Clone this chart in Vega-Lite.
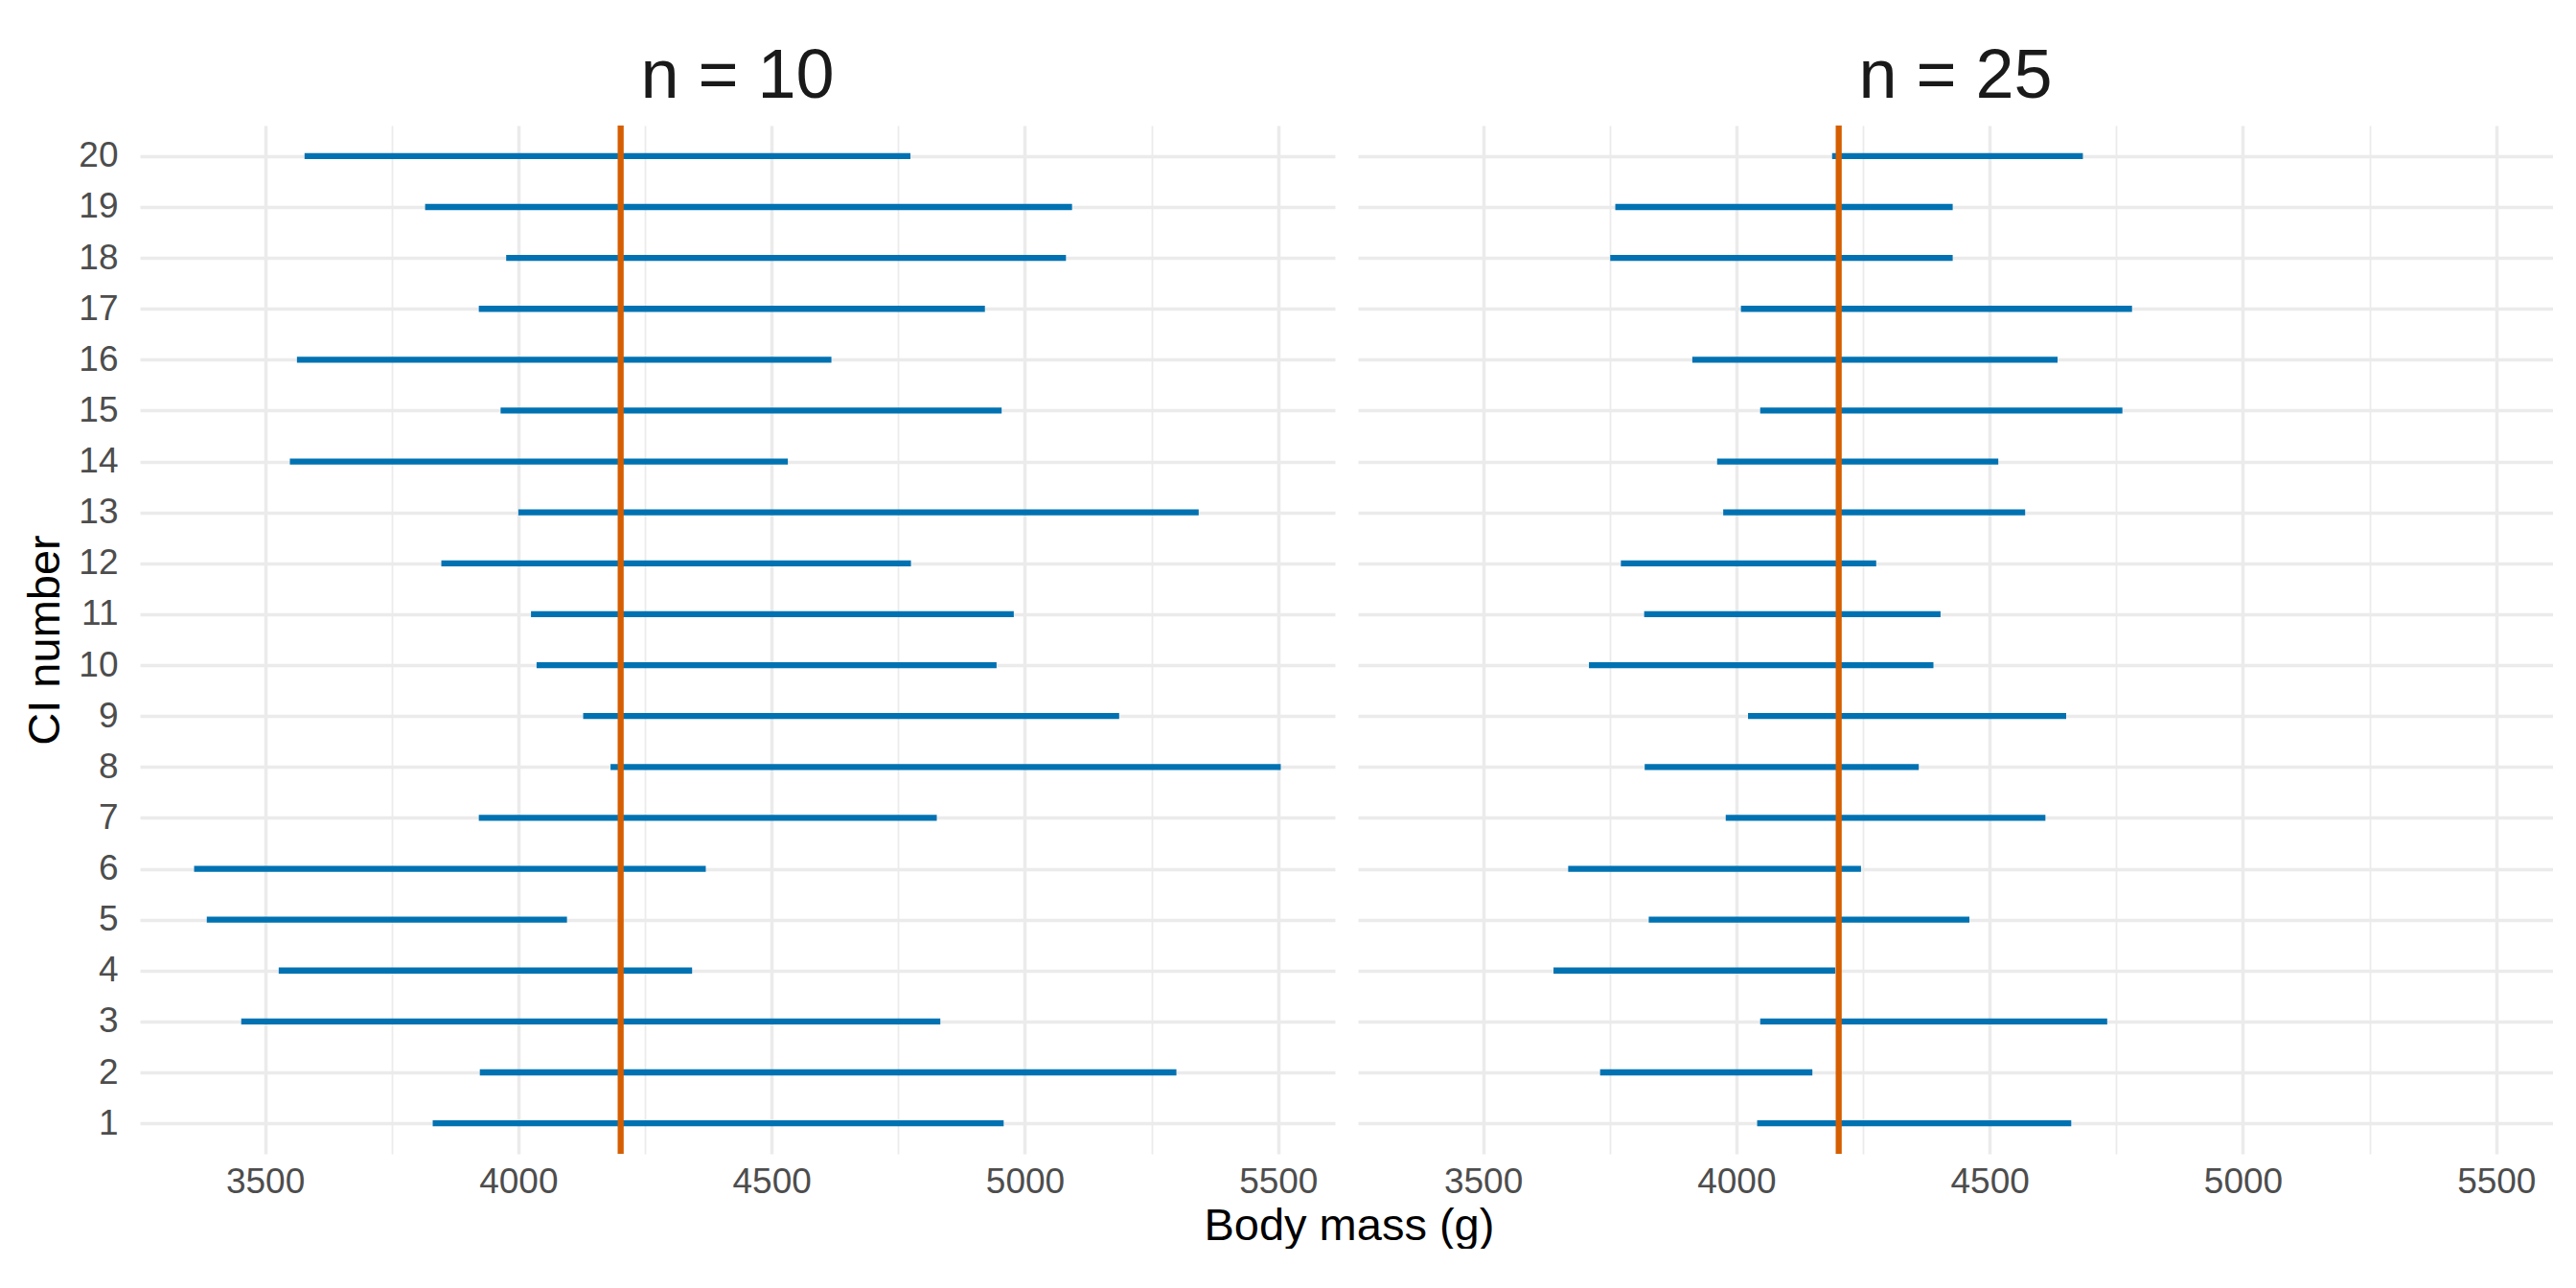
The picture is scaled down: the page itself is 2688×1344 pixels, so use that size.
{
  "$schema": "https://vega.github.io/schema/vega-lite/v6.json",
  "background": "white",
  "padding": {"left": 23, "top": 44, "right": 0, "bottom": 0},
  "autosize": {"type": "pad"},
  "data": {"values": [
    {"n": "n = 10", "ci": 1, "lower": 3831, "upper": 4958},
    {"n": "n = 10", "ci": 2, "lower": 3924, "upper": 5299},
    {"n": "n = 10", "ci": 3, "lower": 3453, "upper": 4833},
    {"n": "n = 10", "ci": 4, "lower": 3527, "upper": 4343},
    {"n": "n = 10", "ci": 5, "lower": 3385, "upper": 4096},
    {"n": "n = 10", "ci": 6, "lower": 3360, "upper": 4370},
    {"n": "n = 10", "ci": 7, "lower": 3922, "upper": 4826},
    {"n": "n = 10", "ci": 8, "lower": 4182, "upper": 5505},
    {"n": "n = 10", "ci": 9, "lower": 4128, "upper": 5186},
    {"n": "n = 10", "ci": 10, "lower": 4036, "upper": 4944},
    {"n": "n = 10", "ci": 11, "lower": 4025, "upper": 4978},
    {"n": "n = 10", "ci": 12, "lower": 3848, "upper": 4775},
    {"n": "n = 10", "ci": 13, "lower": 4000, "upper": 5343},
    {"n": "n = 10", "ci": 14, "lower": 3549, "upper": 4532},
    {"n": "n = 10", "ci": 15, "lower": 3965, "upper": 4954},
    {"n": "n = 10", "ci": 16, "lower": 3563, "upper": 4618},
    {"n": "n = 10", "ci": 17, "lower": 3922, "upper": 4921},
    {"n": "n = 10", "ci": 18, "lower": 3976, "upper": 5081},
    {"n": "n = 10", "ci": 19, "lower": 3816, "upper": 5093},
    {"n": "n = 10", "ci": 20, "lower": 3578, "upper": 4774},
    {"n": "n = 25", "ci": 1, "lower": 4041, "upper": 4661},
    {"n": "n = 25", "ci": 2, "lower": 3731, "upper": 4150},
    {"n": "n = 25", "ci": 3, "lower": 4047, "upper": 4732},
    {"n": "n = 25", "ci": 4, "lower": 3639, "upper": 4195},
    {"n": "n = 25", "ci": 5, "lower": 3827, "upper": 4460},
    {"n": "n = 25", "ci": 6, "lower": 3668, "upper": 4246},
    {"n": "n = 25", "ci": 7, "lower": 3979, "upper": 4610},
    {"n": "n = 25", "ci": 8, "lower": 3819, "upper": 4360},
    {"n": "n = 25", "ci": 9, "lower": 4023, "upper": 4651},
    {"n": "n = 25", "ci": 10, "lower": 3709, "upper": 4389},
    {"n": "n = 25", "ci": 11, "lower": 3818, "upper": 4403},
    {"n": "n = 25", "ci": 12, "lower": 3772, "upper": 4276},
    {"n": "n = 25", "ci": 13, "lower": 3974, "upper": 4570},
    {"n": "n = 25", "ci": 14, "lower": 3962, "upper": 4517},
    {"n": "n = 25", "ci": 15, "lower": 4047, "upper": 4762},
    {"n": "n = 25", "ci": 16, "lower": 3913, "upper": 4634},
    {"n": "n = 25", "ci": 17, "lower": 4009, "upper": 4781},
    {"n": "n = 25", "ci": 18, "lower": 3751, "upper": 4427},
    {"n": "n = 25", "ci": 19, "lower": 3761, "upper": 4427},
    {"n": "n = 25", "ci": 20, "lower": 4189, "upper": 4684}
  ]},
  "title": {"text": "Body mass (g)", "orient": "bottom", "anchor": "middle", "fontSize": 47, "font": "Liberation Sans", "fontWeight": "normal", "color": "#000000", "offset": 6, "dx": 64},
  "facet": {"column": {"field": "n", "type": "nominal", "header": {"title": null, "labelFontSize": 72, "labelFont": "Liberation Sans", "labelColor": "#1A1A1A", "labelPadding": 10}}},
  "spacing": 24,
  "spec": {
    "width": 1247,
    "height": 1073,
    "layer": [
      {
        "mark": {"type": "rule", "color": "#0072B2", "strokeWidth": 6.3, "strokeCap": "butt"},
        "encoding": {
          "x": {"field": "lower", "type": "quantitative",
                "scale": {"domain": [3253, 5612], "nice": false, "zero": false},
                "axis": {"title": null, "values": [3500, 3750, 4000, 4250, 4500, 4750, 5000, 5250, 5500],
                         "format": "d", "labelExpr": "datum.value % 500 === 0 ? datum.label : ''",
                         "grid": true, "gridColor": "#EBEBEB",
                         "gridWidth": {"condition": {"test": "datum.value % 500 !== 0", "value": 1.8}, "value": 3.5},
                         "ticks": false, "tickSize": 0, "domain": false,
                         "labelFontSize": 37, "labelFont": "Liberation Sans", "labelColor": "#4D4D4D", "labelPadding": 7}},
          "x2": {"field": "upper"},
          "y": {"field": "ci", "type": "quantitative",
                "scale": {"domain": [0.4, 20.6], "nice": false, "zero": false},
                "axis": {"title": "CI number", "values": [1,2,3,4,5,6,7,8,9,10,11,12,13,14,15,16,17,18,19,20],
                         "format": "d", "grid": true, "gridColor": "#EBEBEB", "gridWidth": 3.5,
                         "ticks": false, "tickSize": 0, "domain": false,
                         "labelFontSize": 37, "labelFont": "Liberation Sans", "labelColor": "#4D4D4D", "labelPadding": 23,
                         "titleFontSize": 47, "titleFont": "Liberation Sans", "titleFontWeight": "normal", "titleColor": "#000000", "titlePadding": 10}}
        }
      },
      {
        "transform": [{"aggregate": [{"op": "count", "as": "k"}], "groupby": ["n"]}],
        "mark": {"type": "rule", "color": "#D55E00", "strokeWidth": 6.3},
        "encoding": {"x": {"datum": 4202}}
      }
    ]
  },
  "config": {"view": {"stroke": null}}
}
